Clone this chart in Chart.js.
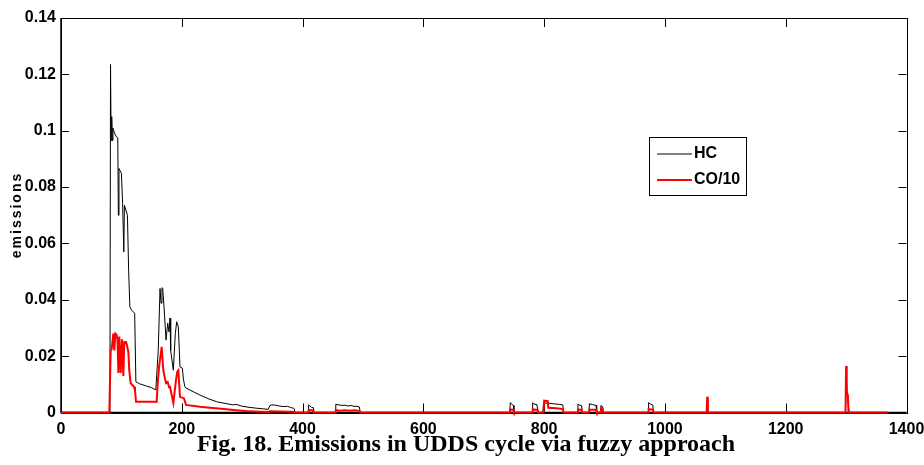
<!DOCTYPE html>
<html lang="en">
<head>
<meta charset="utf-8">
<title>Emissions in UDDS cycle</title>
<script src="https://cdn.jsdelivr.net/npm/chart.js"></script>
<style>
html,body{margin:0;background:#fff}
#wrap{width:924px;height:465px;position:relative}
canvas{display:block}
</style>
</head>
<body>
<div id="wrap"><canvas id="em" width="924" height="465"></canvas></div>

<script>
/* ---- data: time [s] and emission rate ---- */
const hcTime = [0,81,82,83,84,85,86,88,90,92,94,95,96,98,100,102,104,105,107,110,112,114,117,120,122,124,130,140,150,157,
  159,161,164,165.6,167.2,168.4,170.6,173.9,176.7,178.8,180.5,181.6,186,189.3,191.6,194.3,197,201,202.5,205,207,
  215,230,245,258,270,285,290,300,313,325,335,343,346,349,355,362,368,375,380,385,386,387.5,
  409,410,411,415,418,419,
  454,455,460,465,470,475,480,485,490,494,495.5,
  743,744,746,749,750,
  780,781,783,788,790,
  798,799,803,808,815,825,831,832,
  855,856,859,862,863,
  874,875,880,886,887,
  893,894,897,898,
  972,973,976,980,981,
  1069,1070,1071,
  1299,1300,1302,1304,1305,
  1369];
const hcValues = [0,0,0.1235,0.0965,0.105,0.0965,0.101,0.0995,0.0985,0.0978,0.0975,0.070,0.0866,0.0858,0.0849,0.0742,0.057,0.0735,0.0722,0.0700,0.0505,0.0375,0.0362,0.0357,0.0352,0.0109,0.0102,0.0095,0.0088,0.0080,
  0.0150,0.0220,0.0440,0.0388,0.0443,0.0440,0.0375,0.0257,0.0317,0.0286,0.0335,0.0220,0.0150,0.0280,0.0322,0.0304,0.0162,0.0157,0.0122,0.0091,0.0087,
  0.0078,0.0062,0.0048,0.0038,0.0033,0.0027,0.0029,0.0022,0.0018,0.0015,0.0013,0.0011,0.0025,0.0027,0.0026,0.0023,0.0021,0.0022,0.0018,0.0015,0.0014,0,
  0,0.0027,0.0026,0.0018,0.0017,0,
  0,0.0029,0.0027,0.0025,0.0026,0.0023,0.0025,0.0022,0.0022,0.0020,0,
  0,0.0035,0.0030,0.0025,0,
  0,0.0035,0.0030,0.0028,0,
  0,0.0035,0.0033,0.0033,0.0031,0.0029,0.0027,0,
  0,0.0030,0.0026,0.0024,0,
  0,0.0031,0.0028,0.0025,0,
  0,0.0025,0.0020,0,
  0,0.0035,0.0030,0.0026,0,
  0,0.0045,0,
  0,0.0140,0.0060,0.0020,0,
  0];

const coTime = [0,80,82.3,84,86.6,88.3,90,92.2,93.5,95,96.6,98.8,101,103.2,104.8,107.6,109,111.5,113,115.4,120.9,122.5,124.2,158.5,
  160,162.3,166.7,169.4,172.2,173.9,176.7,178.8,180.5,186,190.4,192.6,194.3,197,203.7,207,
  230,246.7,270,285,300,313,330,343,346,380,386,387.5,
  409,410,417,418,
  454,455,462,470,478,486,494,495.5,
  743,744,749,750,
  780,781,789,790,
  799,800,806,807,820,831,832,
  855,856,862,863,
  874,875,886,887,
  893,894,897,898,
  972,973,980,981,
  1069,1070,1071,
  1299,1300,1301,1303,1304,
  1369];
const coValues = [0,0,0.0220,0.0225,0.0280,0.0220,0.0280,0.0275,0.0260,0.0140,0.0270,0.0140,0.0260,0.0130,0.0250,0.0250,0.0240,0.0215,0.0150,0.0104,0.0091,0.0080,0.0038,0.0038,
  0.0100,0.0160,0.0233,0.0150,0.0120,0.0104,0.0108,0.0090,0.0091,0.0034,0.0115,0.0145,0.0150,0.0056,0.0050,0.0027,
  0.0020,0.0017,0.0012,0.0009,0.0006,0.0004,0.0003,0.0002,0.0004,0.0003,0.0002,0,
  0,0.0009,0.0008,0,
  0,0.0008,0.0006,0.0008,0.0006,0.0008,0.0006,0,
  0,0.0011,0.0009,0,
  0,0.0011,0.0009,0,
  0,0.0042,0.0040,0.0017,0.0015,0.0012,0,
  0,0.0011,0.0009,0,
  0,0.0010,0.0010,0,
  0,0.0015,0.0010,0,
  0,0.0012,0.0010,0,
  0,0.0056,0,
  0,0.0165,0.0075,0.0060,0,
  0];

const xTicks = [0,200,400,600,800,1000,1200,1400];
const xTickLabels = ['0','200','400','600','800','1000','1200','1400'];
const yTicks = [0,0.02,0.04,0.06,0.08,0.1,0.12,0.14];
const yTickLabels = ['0','0.02','0.04','0.06','0.08','0.1','0.12','0.14'];
const seriesNames = ['HC','CO/10'];
const yTitle = 'emissions';
const caption = 'Fig. 18. Emissions in UDDS cycle via fuzzy approach';

const toXY = (t,v) => t.map((x,i) => ({x, y:v[i]}));
const tickFont = {family:'"Liberation Sans", Arial, sans-serif', size:16, weight:'bold'};

/* axes box with inward ticks, under the lines */
const frame = {
  id:'frame',
  beforeDatasetsDraw(chart){
    const {ctx, chartArea:a, scales:{x, y}} = chart;
    ctx.save();
    ctx.strokeStyle = '#000';
    ctx.lineWidth = 1;
    ctx.beginPath();
    x.ticks.forEach(t => {
      const px = Math.round(x.getPixelForValue(t.value)) + 0.5;
      ctx.moveTo(px, a.bottom); ctx.lineTo(px, a.bottom - 9);
      ctx.moveTo(px, a.top);    ctx.lineTo(px, a.top + 9);
    });
    y.ticks.forEach(t => {
      const py = Math.round(y.getPixelForValue(t.value)) + 0.5;
      ctx.moveTo(a.left, py);  ctx.lineTo(a.left + 8, py);
      ctx.moveTo(a.right, py); ctx.lineTo(a.right - 8, py);
    });
    ctx.stroke();
    ctx.strokeRect(Math.round(a.left) + 0.5, Math.round(a.top) + 0.5,
                   Math.round(a.right - a.left), Math.round(a.bottom - a.top));
    // left and bottom axis a bit heavier
    ctx.lineWidth = 1.5;
    ctx.beginPath();
    ctx.moveTo(a.left, a.top); ctx.lineTo(a.left, a.bottom); ctx.lineTo(a.right, a.bottom);
    ctx.stroke();
    ctx.restore();
  }
};

/* legend, axis title, caption */
const notes = {
  id:'notes',
  afterDatasetsDraw(chart){
    const {ctx} = chart;
    ctx.save();
    const lx = 649, ly = 137;
    ctx.fillStyle = '#fff';
    ctx.fillRect(lx, ly, 97, 58);
    ctx.lineWidth = 1;
    ctx.strokeStyle = '#000';
    ctx.strokeRect(lx + 0.5, ly + 0.5, 97, 58);
    ctx.font = 'bold 16px "Liberation Sans", Arial, sans-serif';
    ctx.textBaseline = 'middle';
    ctx.textAlign = 'left';
    chart.data.datasets.slice().sort((p, q) => q.order - p.order).forEach((ds, i) => {
      const yy = ly + 17 + i * 26;
      ctx.strokeStyle = ds.borderColor;
      ctx.lineWidth = ds.borderWidth;
      ctx.beginPath(); ctx.moveTo(lx + 8, yy); ctx.lineTo(lx + 43, yy); ctx.stroke();
      ctx.fillStyle = '#000';
      ctx.fillText(ds.label, lx + 45, yy);
    });

    // y axis title
    ctx.save();
    ctx.translate(17, 215);
    ctx.rotate(-Math.PI / 2);
    ctx.font = 'bold 14px "Liberation Sans", Arial, sans-serif';
    ctx.letterSpacing = '2px';
    ctx.textAlign = 'center';
    ctx.textBaseline = 'middle';
    ctx.fillText(yTitle, 0, 0);
    ctx.restore();

    // caption
    ctx.font = 'bold 24px "Liberation Serif", "Times New Roman", serif';
    ctx.textAlign = 'center';
    ctx.textBaseline = 'alphabetic';
    ctx.fillStyle = '#000';
    ctx.fillText(caption, 466, 451);
    ctx.restore();
  }
};

new Chart(document.getElementById('em'), {
  type:'line',
  data:{
    datasets:[
      {label:seriesNames[0], data:toXY(hcTime, hcValues), borderColor:'#000000', borderWidth:1, order:1},
      {label:seriesNames[1], data:toXY(coTime, coValues), borderColor:'#ff0000', borderWidth:2, order:0}
    ]
  },
  options:{
    responsive:false, animation:false,
    elements:{point:{radius:0}, line:{tension:0}},
    clip:3,
    layout:{padding:{left:0, right:17.5, top:18, bottom:0}},
    plugins:{legend:{display:false}, tooltip:{enabled:false}, title:{display:false}},
    scales:{
      x:{
        type:'linear', min:0, max:1400,
        afterBuildTicks:s => { s.ticks = xTicks.map(v => ({value:v})); },
        afterFit:s => { s.height = 52.5; s.paddingLeft = 0; s.paddingRight = 0; },
        grid:{display:false, drawTicks:false},
        border:{display:false},
        ticks:{color:'#000', font:tickFont, padding:7, maxRotation:0, autoSkip:false,
               callback:(v, i) => xTickLabels[i]}
      },
      y:{
        type:'linear', min:0, max:0.14,
        afterBuildTicks:s => { s.ticks = yTicks.map(v => ({value:v})); },
        afterFit:s => { s.width = 61; s.paddingTop = 0; s.paddingBottom = 0; },
        grid:{display:false, drawTicks:false},
        border:{display:false},
        ticks:{color:'#000', font:tickFont, padding:5, autoSkip:false,
               callback:(v, i) => yTickLabels[i]}
      }
    }
  },
  plugins:[frame, notes]
});
</script>
</body>
</html>
